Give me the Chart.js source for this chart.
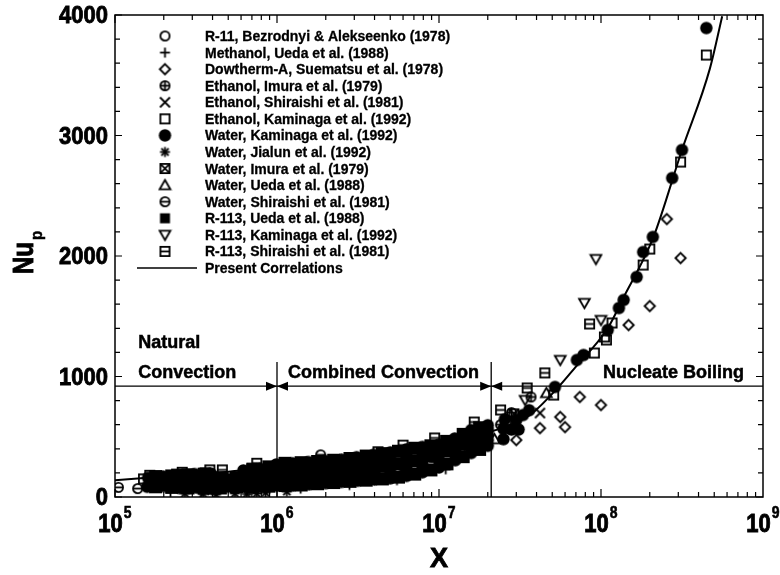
<!DOCTYPE html>
<html>
<head>
<meta charset="utf-8">
<script src="https://cdn.jsdelivr.net/npm/chart.js@4.4.0/dist/chart.umd.min.js"></script>
<style>
  html, body { margin: 0; padding: 0; background: #fff; }
</style>
</head>
<body>
<canvas id="nuChart" width="780" height="575"></canvas>
<script>
// axis ranges and tick labels
const xMin = 1e5, xMax = 1e9;
const yMin = 0, yMax = 4000;
const xTickExps = [5, 6, 7, 8, 9];
const yTickLabels = [0, 1000, 2000, 3000, 4000];
const yMinorStep = 200;

// regime boundaries (X values) and the Nu level of the separating line
const regimeDividers = [1e6, 2.1e7];
const regimeDividerTop = 1120;
const regimeLevel = 920;

// data sets [X, Nu_p]
const r11Bezrodnyi = [[1.9e5, 112], [3.0e5, 116], [5.2e5, 130], [9e5, 170], [1.6e6, 205], [3.2e6, 250], [6.5e6, 300], [1.3e7, 420]];
const methanolUeda = [[2.2e5, 40], [3.4e5, 35], [6.8e5, 55], [1.4e6, 70], [2.8e6, 100], [5.5e6, 140], [1.1e7, 230]];
const dowthermSuematsu = [[3.0e7, 473], [4.2e7, 572], [6.0e7, 580], [5.6e7, 664], [7.4e7, 830], [1.0e8, 763],
  [1.48e8, 1427], [2.0e8, 1585], [3.1e8, 1983], [2.55e8, 2307]];
const ethanolImura = [[2.6e5, 150], [1.1e6, 210], [4.5e6, 300], [2.4e7, 600], [2.8e7, 700], [3.7e7, 830]];
const ethanolShiraishi = [[4.0e5, 60], [1.5e6, 110], [6e6, 200], [1.8e7, 400], [4.2e7, 697]];
const ethanolKaminaga = [[1.5e5, 150], [2.4e5, 190], [3.6e5, 200], [7e5, 240], [1.4e6, 265], [2.8e6, 290], [5.5e6, 350],
  [1.1e7, 470], [1.35e7, 380], [5.1e7, 846], [9.1e7, 1195], [1.05e8, 1328], [1.08e8, 1303], [1.17e8, 1444],
  [1.82e8, 1925], [2.0e8, 2058], [3.1e8, 2780], [4.47e8, 3668]];
const waterKaminaga = [
  [1.58e5, 85], [1.6e5, 160],
  [2.0e5, 90], [2.0e5, 110], [2.0e5, 130], [2.0e5, 150], [1.98e5, 170],
  [2.5e5, 75], [2.5e5, 100], [2.52e5, 130], [2.5e5, 155], [2.48e5, 180],
  [3.15e5, 80], [3.15e5, 108], [3.2e5, 135], [3.15e5, 162], [3.1e5, 190],
  [3.95e5, 70], [3.95e5, 100], [4.0e5, 130], [3.95e5, 162], [3.9e5, 195],
  [5.0e5, 85], [5.0e5, 102], [5.05e5, 120], [5.0e5, 150],
  [6.3e5, 85], [6.3e5, 118], [6.3e5, 150], [6.3e5, 185], [6.2e5, 220],
  [7.9e5, 85], [7.9e5, 122], [8.0e5, 160], [7.9e5, 198], [7.8e5, 235],
  [1.0e6, 95], [1.0e6, 140], [1.0e6, 180], [1.0e6, 225], [9.9e5, 270],
  [1.26e6, 95], [1.26e6, 140], [1.27e6, 185], [1.26e6, 232], [1.25e6, 280],
  [1.58e6, 105], [1.58e6, 150], [1.6e6, 195], [1.58e6, 242], [1.56e6, 290],
  [2.0e6, 115], [2.0e6, 162], [2.0e6, 210], [2.0e6, 255], [1.98e6, 300],
  [2.5e6, 125], [2.5e6, 172], [2.5e6, 220], [2.5e6, 265], [2.5e6, 310],
  [3.15e6, 135], [3.15e6, 182], [3.2e6, 230], [3.15e6, 280], [3.1e6, 330],
  [4.0e6, 145], [4.0e6, 197], [4.0e6, 250], [4.0e6, 300], [3.95e6, 350],
  [5.0e6, 155], [5.0e6, 207], [5.0e6, 260], [5.0e6, 315], [5.0e6, 370],
  [6.3e6, 175], [6.3e6, 232], [6.3e6, 290], [6.3e6, 342], [6.3e6, 395],
  [7.9e6, 205], [7.9e6, 262], [8.0e6, 320], [7.9e6, 368], [7.9e6, 415],
  [1.0e7, 245], [1.0e7, 302], [1.0e7, 360], [1.0e7, 398], [1.0e7, 435],
  [1.26e7, 305], [1.26e7, 357], [1.26e7, 410], [1.26e7, 448], [1.25e7, 485],
  [1.58e7, 365], [1.58e7, 417], [1.6e7, 470], [1.58e7, 512], [1.58e7, 555],
  [2.0e7, 425], [2.0e7, 472], [2.0e7, 520], [2.0e7, 558], [2.0e7, 595],
  [2.5e7, 480], [2.5e7, 565], [2.55e7, 645],
  [2.8e7, 560], [3.1e7, 560], [3.0e7, 640], [3.3e7, 680], [3.6e7, 720],
  [5.2e7, 913], [7.1e7, 1137], [7.8e7, 1178], [1.1e8, 1386], [1.29e8, 1568], [1.38e8, 1635],
  [1.66e8, 1826], [1.82e8, 2033], [2.09e8, 2158], [2.75e8, 2647], [3.16e8, 2880], [4.47e8, 3892]
];
const waterJialun = [[2.7e5, 30], [3.5e5, 25], [4.2e5, 20], [5.5e5, 30], [6.5e5, 25], [7.5e5, 30], [8.5e5, 35], [1.15e6, 45]];
const waterImura = [[1.8e5, 120], [4.6e5, 160], [2.2e6, 240], [8.5e6, 380], [2.6e7, 610], [2.9e7, 690]];
const waterUeda = [[3.3e5, 100], [1.7e6, 160], [7e6, 260], [2.2e7, 480], [4.6e7, 863]];
const waterShiraishi = [[1.05e5, 80], [1.38e5, 70], [1.86e6, 350], [9e6, 330], [1.5e7, 520]];
const r113Ueda = [
  [1.78e5, 85], [1.78e5, 130], [1.78e5, 170],
  [2.24e5, 80], [2.24e5, 130], [2.24e5, 175],
  [2.82e5, 75], [2.82e5, 130], [2.82e5, 185],
  [3.55e5, 75], [3.55e5, 135], [3.55e5, 190],
  [4.47e5, 75], [4.47e5, 120], [4.47e5, 160],
  [5.62e5, 85], [5.62e5, 130], [5.62e5, 160],
  [7.08e5, 85], [7.08e5, 160], [7.08e5, 225],
  [8.91e5, 90], [8.91e5, 170], [8.91e5, 250],
  [1.12e6, 95], [1.12e6, 185], [1.12e6, 280],
  [1.41e6, 100], [1.41e6, 190], [1.41e6, 285],
  [1.78e6, 110], [1.78e6, 200], [1.78e6, 295],
  [2.24e6, 120], [2.24e6, 215], [2.24e6, 305],
  [2.82e6, 130], [2.82e6, 225], [2.82e6, 320],
  [3.55e6, 140], [3.55e6, 240], [3.55e6, 340],
  [4.47e6, 150], [4.47e6, 255], [4.47e6, 360],
  [5.62e6, 165], [5.62e6, 275], [5.62e6, 380],
  [7.08e6, 190], [7.08e6, 300], [7.08e6, 405],
  [8.91e6, 225], [8.91e6, 340], [8.91e6, 425],
  [1.12e7, 275], [1.12e7, 385], [1.12e7, 460],
  [1.41e7, 335], [1.41e7, 440], [1.41e7, 520],
  [1.78e7, 395], [1.78e7, 490], [1.78e7, 575]
];
const r113Kaminaga = [[3.4e7, 805], [5.6e7, 1137], [7.9e7, 1610], [9.3e7, 1975], [1.0e8, 1469]];
const r113Shiraishi = [[1.64e5, 180], [2.6e5, 205], [3.85e5, 225], [4.6e5, 225], [7.5e5, 280], [4.2e6, 375], [6.0e6, 430],
  [9.4e6, 490], [1.65e7, 622], [2.4e7, 722], [3.5e7, 905], [4.5e7, 1030], [8.5e7, 1436]];

// present correlation curve
const correlationCurve = [[1e5, 140], [2e5, 170], [5e5, 210], [1e6, 250], [2e6, 290], [5e6, 360], [1e7, 430],
  [2e7, 535], [3e7, 620], [3.8e7, 700], [5.4e7, 905], [6.9e7, 1072], [1.1e8, 1400], [1.37e8, 1650],
  [2.1e8, 2152], [3.16e8, 2880], [4.7e8, 3555], [5.6e8, 3990]];

const FONT = '"Liberation Sans", Arial, Helvetica, sans-serif';

// marker glyphs drawn onto small canvases
function makeMarker(kind) {
  const s = 15, m = s / 2;
  const c = document.createElement('canvas');
  c.width = s; c.height = s;
  const g = c.getContext('2d');
  g.strokeStyle = '#000';
  g.fillStyle = '#000';
  g.lineWidth = 1.8;
  const r = 4.6;
  const circle = () => { g.beginPath(); g.arc(m, m, r, 0, Math.PI * 2); g.stroke(); };
  const square = () => { g.strokeRect(m - 4.6, m - 4.6, 9.2, 9.2); };
  const line = (x1, y1, x2, y2) => { g.beginPath(); g.moveTo(x1, y1); g.lineTo(x2, y2); g.stroke(); };
  switch (kind) {
    case 'circle': circle(); break;
    case 'plus': line(m - 5, m, m + 5, m); line(m, m - 5, m, m + 5); break;
    case 'diamond':
      g.beginPath(); g.moveTo(m, m - 5.2); g.lineTo(m + 5.2, m); g.lineTo(m, m + 5.2); g.lineTo(m - 5.2, m); g.closePath(); g.stroke();
      break;
    case 'circlePlus': circle(); line(m - r, m, m + r, m); line(m, m - r, m, m + r); break;
    case 'cross': line(m - 5, m - 5, m + 5, m + 5); line(m - 5, m + 5, m + 5, m - 5); break;
    case 'square': square(); break;
    case 'dot': g.beginPath(); g.arc(m, m, 6.2, 0, Math.PI * 2); g.fill(); break;
    case 'asterisk':
      line(m - 5, m, m + 5, m); line(m, m - 5, m, m + 5);
      line(m - 3.6, m - 3.6, m + 3.6, m + 3.6); line(m - 3.6, m + 3.6, m + 3.6, m - 3.6);
      break;
    case 'squareCross': square(); line(m - 4.6, m - 4.6, m + 4.6, m + 4.6); line(m - 4.6, m + 4.6, m + 4.6, m - 4.6); break;
    case 'triangle':
      g.beginPath(); g.moveTo(m, m - 5.2); g.lineTo(m + 5.4, m + 4.2); g.lineTo(m - 5.4, m + 4.2); g.closePath(); g.stroke();
      break;
    case 'circleBar': circle(); line(m - r, m, m + r, m); break;
    case 'box': g.fillRect(m - 6.5, m - 6.5, 13, 13); break;
    case 'boxKey': g.fillRect(m - 5, m - 5, 10, 10); break;
    case 'triangleDown':
      g.beginPath(); g.moveTo(m, m + 5.2); g.lineTo(m + 5.4, m - 4.2); g.lineTo(m - 5.4, m - 4.2); g.closePath(); g.stroke();
      break;
    case 'squareBar': square(); line(m - 4.6, m, m + 4.6, m); break;
  }
  return c;
}

const series = [
  ['R-11, Bezrodnyi & Alekseenko (1978)', r11Bezrodnyi, 'circle'],
  ['Methanol, Ueda et al. (1988)', methanolUeda, 'plus'],
  ['Dowtherm-A, Suematsu et al. (1978)', dowthermSuematsu, 'diamond'],
  ['Ethanol, Imura et al. (1979)', ethanolImura, 'circlePlus'],
  ['Ethanol, Shiraishi et al. (1981)', ethanolShiraishi, 'cross'],
  ['Ethanol, Kaminaga et al. (1992)', ethanolKaminaga, 'square'],
  ['Water, Kaminaga et al. (1992)', waterKaminaga, 'dot'],
  ['Water, Jialun et al. (1992)', waterJialun, 'asterisk'],
  ['Water, Imura et al. (1979)', waterImura, 'squareCross'],
  ['Water, Ueda et al. (1988)', waterUeda, 'triangle'],
  ['Water, Shiraishi et al. (1981)', waterShiraishi, 'circleBar'],
  ['R-113, Ueda et al. (1988)', r113Ueda, 'box', 'boxKey'],
  ['R-113, Kaminaga et al. (1992)', r113Kaminaga, 'triangleDown'],
  ['R-113, Shiraishi et al. (1981)', r113Shiraishi, 'squareBar']
];

const datasets = series.map(([label, pts, kind, keyKind]) => ({
  label,
  data: pts.map(([x, y]) => ({ x, y })),
  pointStyle: makeMarker(kind),
  legendMarker: makeMarker(keyKind || kind),
  pointRadius: 5,
  showLine: false
}));

datasets.push({
  label: 'Present Correlations',
  data: correlationCurve.map(([x, y]) => ({ x, y })),
  showLine: true,
  borderColor: '#000',
  borderWidth: 2,
  pointRadius: 0,
  cubicInterpolationMode: 'monotone',
  fill: false
});

// bold text, optionally stretched vertically and thickened a little
function drawText(ctx, str, x, y, size, align, sy, heavy) {
  ctx.save();
  ctx.translate(x, y);
  ctx.scale(1, sy || 1);
  ctx.font = 'bold ' + size + 'px ' + FONT;
  ctx.textAlign = align;
  ctx.textBaseline = 'alphabetic';
  ctx.fillStyle = '#000';
  ctx.fillText(str, 0, 0);
  if (heavy) {
    ctx.strokeStyle = '#000';
    ctx.lineWidth = heavy;
    ctx.strokeText(str, 0, 0);
  }
  ctx.restore();
}

// regime separators under the markers
const regimeLines = {
  id: 'regimeLines',
  beforeDatasetsDraw(chart) {
    const { ctx, chartArea: a, scales: { x, y } } = chart;
    const yl = y.getPixelForValue(regimeLevel);
    ctx.save();
    ctx.strokeStyle = '#000';
    ctx.lineWidth = 1.3;
    ctx.beginPath();
    ctx.moveTo(a.left, yl);
    ctx.lineTo(a.right, yl);
    regimeDividers.forEach(v => {
      const xd = x.getPixelForValue(v);
      ctx.moveTo(xd, y.getPixelForValue(regimeDividerTop));
      ctx.lineTo(xd, a.bottom);
    });
    ctx.stroke();
    ctx.fillStyle = '#000';
    regimeDividers.forEach(v => {
      const xd = x.getPixelForValue(v);
      [-1, 1].forEach(side => {
        ctx.beginPath();
        ctx.moveTo(xd, yl);
        ctx.lineTo(xd + side * 11, yl - 4.5);
        ctx.lineTo(xd + side * 11, yl + 4.5);
        ctx.closePath();
        ctx.fill();
      });
    });
    ctx.restore();
  }
};

// frame, inward ticks, tick labels, titles, regime names and the legend
const decorations = {
  id: 'decorations',
  afterDraw(chart) {
    const { ctx, chartArea: a, scales: { x, y } } = chart;
    ctx.save();
    ctx.strokeStyle = '#000';
    ctx.lineWidth = 1.5;
    ctx.strokeRect(a.left, a.top, a.right - a.left, a.bottom - a.top);

    ctx.lineWidth = 1.2;
    ctx.beginPath();
    for (let e = 5; e < 9; e++) {
      for (let k = 1; k <= 9; k++) {
        const px = x.getPixelForValue(k * Math.pow(10, e));
        const len = k === 1 ? 8 : 5;
        ctx.moveTo(px, a.bottom); ctx.lineTo(px, a.bottom - len);
        ctx.moveTo(px, a.top); ctx.lineTo(px, a.top + len);
      }
    }
    for (let v = yMin; v <= yMax; v += yMinorStep) {
      const py = y.getPixelForValue(v);
      const len = v % 1000 === 0 ? 7 : 5;
      ctx.moveTo(a.left, py); ctx.lineTo(a.left + len, py);
      ctx.moveTo(a.right, py); ctx.lineTo(a.right - len, py);
    }
    ctx.stroke();

    // tick labels
    yTickLabels.forEach(v => {
      drawText(ctx, String(v), a.left - 7, y.getPixelForValue(v) + 8, 22, 'right', 1.1, 0.8);
    });
    ctx.font = 'bold 22px ' + FONT;
    const baseW = ctx.measureText('10').width;
    ctx.font = 'bold 14px ' + FONT;
    const expW = ctx.measureText('5').width;
    xTickExps.forEach(e => {
      const px = x.getPixelForValue(Math.pow(10, e));
      const left = px - (baseW + expW + 1) / 2;
      drawText(ctx, '10', left, a.bottom + 35, 22, 'left', 1.2, 0.8);
      drawText(ctx, String(e), left + baseW + 1, a.bottom + 21, 14, 'left', 1.15, 0.5);
    });

    // axis titles
    drawText(ctx, 'X', (a.left + a.right) / 2, a.bottom + 70, 27, 'center', 1.05, 0.8);
    ctx.save();
    ctx.translate(33, (a.top + a.bottom) / 2 + 18);
    ctx.rotate(-Math.PI / 2);
    drawText(ctx, 'Nu', 0, 0, 24, 'left', 1.2, 0.8);
    ctx.font = 'bold 24px ' + FONT;
    const nuW = ctx.measureText('Nu').width;
    drawText(ctx, 'p', nuW + 2, 9, 15, 'left', 1.1, 0.5);
    ctx.restore();

    // regime names
    drawText(ctx, 'Natural', x.getPixelForValue(1.39e5), y.getPixelForValue(1237), 18, 'left', 1, 0.5);
    drawText(ctx, 'Convection', x.getPixelForValue(1.39e5), y.getPixelForValue(988), 18, 'left', 1, 0.5);
    drawText(ctx, 'Combined Convection', x.getPixelForValue(1.17e6), y.getPixelForValue(988), 18, 'left', 1, 0.5);
    drawText(ctx, 'Nucleate Boiling', x.getPixelForValue(1.03e8), y.getPixelForValue(988), 18, 'left', 1, 0.5);

    // legend
    const symX = a.left + 50, txtX = a.left + 90;
    chart.data.datasets.forEach((ds, i) => {
      const cy = a.top + 21 + i * 16.57;
      if (ds.showLine) {
        ctx.lineWidth = 1.5;
        ctx.beginPath();
        ctx.moveTo(a.left + 22, cy);
        ctx.lineTo(a.left + 82, cy);
        ctx.stroke();
      } else {
        const img = ds.legendMarker;
        ctx.drawImage(img, symX - img.width / 2, cy - img.height / 2);
      }
      drawText(ctx, ds.label, txtX, cy + 5, 14, 'left', 1, 0.3);
    });
    ctx.restore();
  }
};

new Chart(document.getElementById('nuChart'), {
  type: 'scatter',
  data: { datasets },
  options: {
    responsive: false,
    animation: false,
    layout: { padding: { left: 115, right: 17, top: 15, bottom: 78 } },
    scales: {
      x: { type: 'logarithmic', min: xMin, max: xMax, display: false },
      y: { type: 'linear', min: yMin, max: yMax, display: false }
    },
    plugins: {
      legend: { display: false },
      tooltip: { enabled: false }
    }
  },
  plugins: [regimeLines, decorations]
});
</script>
</body>
</html>
